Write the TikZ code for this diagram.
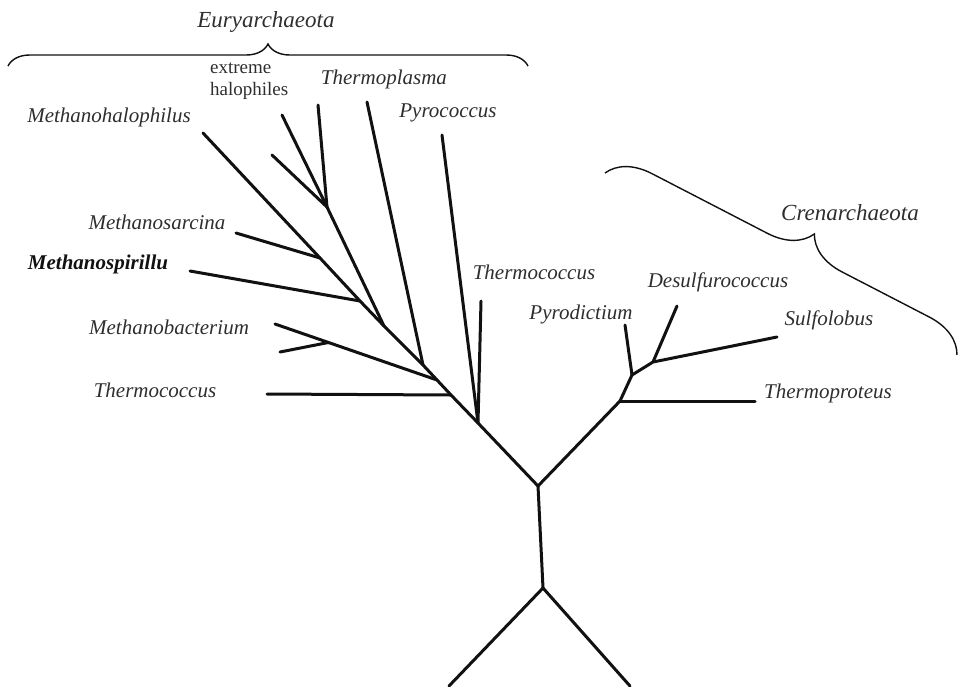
\documentclass[tikz,border=0pt]{standalone}
\usepackage{fontspec}
\setmainfont{Liberation Serif}
\usetikzlibrary{decorations.pathreplacing,calc}
\definecolor{Branch}{HTML}{111111}
\definecolor{Label}{HTML}{2E2E2E}
\tikzset{
  branch/.style={draw=Branch,line width=3pt,line cap=round,line join=round},
  taxon/.style={font=\fontsize{21}{24}\selectfont\itshape,text=Label,inner sep=0pt,text height=1.5ex,text depth=.25ex},
  clade/.style={font=\fontsize{23}{26}\selectfont\itshape,text=Label,inner sep=0pt},
  brc/.style={draw=Branch,line width=1.4pt,decorate,decoration={brace,amplitude=#1}},
}

\begin{document}
\begin{tikzpicture}[x=1pt,y=-1pt]
\path[use as bounding box] (0,0) rectangle (958,686);
% -root-
\coordinate (r0) at (543,588);
\coordinate (r1) at (538,486);
\coordinate (ba) at (449,686);
\coordinate (bb) at (630,686);
\draw[branch] (ba) -- (r0) -- (bb);
\draw[branch] (r0) -- (r1);
% -Euryarchaeota-
\coordinate (e1) at (478,423);
\coordinate (e2) at (451,395);
\coordinate (e3) at (437,380);
\coordinate (e4) at (423,365);
\coordinate (e5) at (384,326);
\coordinate (e6) at (360,301);
\coordinate (e7) at (320,258);
\coordinate (hj) at (327,207);
\coordinate (xmhal) at (203,133);
\coordinate (xmsar) at (236,233);
\coordinate (xmspi) at (190,271);
\coordinate (xmbac) at (275,324);
\coordinate (xmbb) at (280,352);
\coordinate (mbj) at ($(xmbac)!0.33!(e3)$);
\coordinate (xtcol) at (267,394);
\coordinate (xtpla) at (367,102);
\coordinate (xpyro) at (442,135);
\coordinate (xtcou) at (481,301);
\coordinate (xh1) at (272,155);
\coordinate (xh2) at (282,115);
\coordinate (xh3) at (318,105);
\draw[branch] (r1) -- (e1) -- (e2) -- (e3) -- (e4) -- (e5) -- (e6) -- (e7) -- (xmhal);
\draw[branch] (xpyro) -- (e1) -- (xtcou);
\draw[branch] (xtcol) -- (e2);
\draw[branch] (xmbac) -- (e3);
\draw[branch] (xmbb) -- (mbj);
\draw[branch] (xtpla) -- (e4);
\draw[branch] (e5) -- (hj);
\draw[branch] (xh1) -- (hj) -- (xh2);
\draw[branch] (xh3) -- (hj);
\draw[branch] (xmspi) -- (e6);
\draw[branch] (xmsar) -- (e7);
% -Crenarchaeota-
\coordinate (c1) at (620,401);
\coordinate (c2) at (632,375);
\coordinate (c3) at (653,362);
\coordinate (xtpro) at (755,401);
\coordinate (xpdic) at (625,325);
\coordinate (xdsul) at (677,306);
\coordinate (xsulf) at (777,337);
\draw[branch] (r1) -- (c1) -- (c2) -- (c3) -- (xsulf);
\draw[branch] (c1) -- (xtpro);
\draw[branch] (c2) -- (xpdic);
\draw[branch] (c3) -- (xdsul);
% -braces-
\coordinate (ebl) at (8,66);
\coordinate (ebr) at (528,66);
\coordinate (cbl) at (605,173);
\coordinate (cbr) at (957,355);
\draw[brc=22pt] (ebl) -- (ebr);
\draw[brc=42pt,decoration={aspect=0.54}] (cbl) -- (cbr);
\node[clade] (eury) at (266,22) {Euryarchaeota};
\node[clade] (cren) at (850,213) {Crenarchaeota};
% -labels-
\node[font=\fontsize{19}{22}\selectfont,text=Label,inner sep=0pt,align=left,anchor=west] (halo) at (210,81) {extreme\\halophiles};
\node[taxon] (mhal) at (109,120) {Methanohalophilus};
\node[taxon] (msar) at (157,227) {Methanosarcina};
\node[taxon,font=\fontsize{21}{24}\selectfont\bfseries\itshape,text=Branch] (mspi) at (98,267) {Methanospirillu};
\node[taxon] (mbac) at (169,332) {Methanobacterium};
\node[taxon] (tcol) at (155,395) {Thermococcus};
\node[taxon] (tpla) at (384,82) {Thermoplasma};
\node[taxon] (pyro) at (448,115) {Pyrococcus};
\node[taxon] (tcou) at (534,277) {Thermococcus};
\node[taxon] (pdic) at (581,317) {Pyrodictium};
\node[taxon] (dsul) at (718,285) {Desulfurococcus};
\node[taxon] (sulf) at (829,323) {Sulfolobus};
\node[taxon] (tpro) at (828,396) {Thermoproteus};
\end{tikzpicture}
\end{document}
